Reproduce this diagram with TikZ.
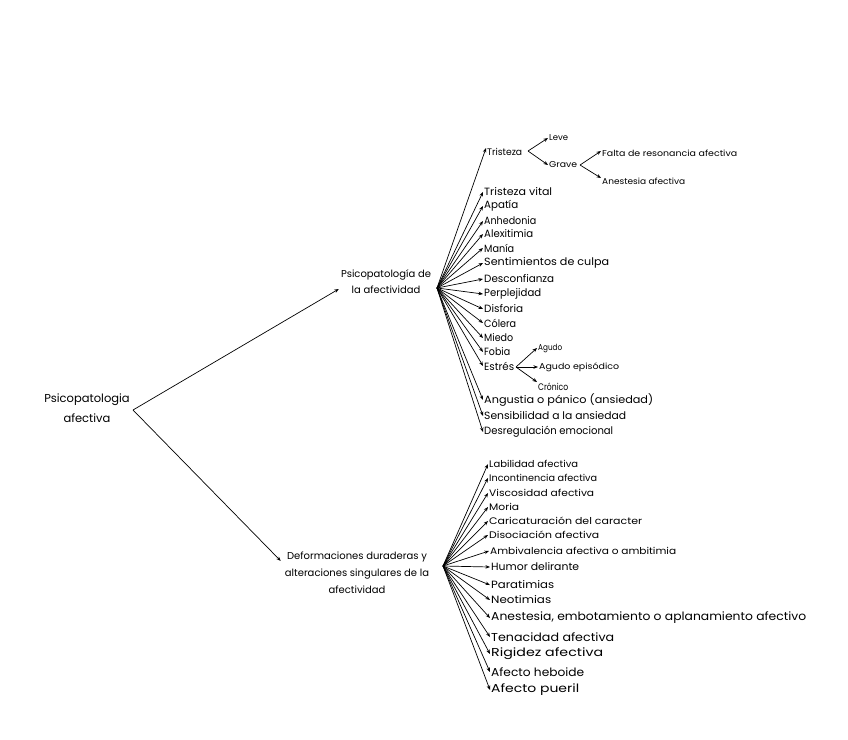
\documentclass[tikz,border=0pt]{standalone}
\usepackage{fontspec}
\setmainfont{Poppins}
\usetikzlibrary{arrows.meta,calc}
\newcommand\fitto[2]{\resizebox{#1pt}{\height}{#2}}
\begin{document}
\begin{tikzpicture}[x=1pt,y=-1pt,
  arr/.style={-{Stealth[length=4.5pt,width=3.5pt]}, line width=0.7pt},
  lbl/.style={anchor=west, inner sep=1pt, font=\fontsize{10.5}{12}\selectfont},
  sm/.style={font=\fontsize{8.5}{10}\selectfont},
  md/.style={font=\fontsize{9.5}{11}\selectfont},
  lg/.style={font=\fontsize{11.5}{13}\selectfont},
  grp/.style={align=center, inner sep=1pt}]
\useasboundingbox[fill=white] (0,0) rectangle (848,739);

% root and groups
\node[grp, font=\fontsize{11.5}{20}\selectfont] (root) at (87,408) {Psicopatologia\\afectiva};
\node[grp, font=\fontsize{10}{16}\selectfont] (p1) at (386,282) {Psicopatología de\\la afectividad};
\node[grp, font=\fontsize{10}{17}\selectfont] (d) at (357,573) {Deformaciones duraderas y\\alteraciones singulares de la\\afectividad};

\coordinate (rv) at (133,410);
\coordinate (h1) at (437,288);
\coordinate (h2) at (443,566);

\draw[arr] (rv) -- ($(p1.west)+(-1,7)$);
\draw[arr] (rv) -- ($(d.north west)+(-3,10)$);

% upper group
\node[lbl,md] (tri)  at (486,152) {\fitto{35}{Tristeza}};
\node[lbl,sm] (leve) at (548,138) {\fitto{19}{Leve}};
\node[lbl,sm] (grave) at (548,165) {\fitto{28}{Grave}};
\node[lbl,sm] (falta) at (601,153) {\fitto{135}{Falta de resonancia afectiva}};
\node[lbl,sm] (anes) at (601,181) {\fitto{83}{Anestesia afectiva}};
\node[lbl] (tv)   at (483,192) {\fitto{68}{Tristeza vital}};
\node[lbl] (apa)  at (483,206) {\fitto{34}{Apatía}};
\node[lbl] (anh)  at (483,221) {\fitto{52}{Anhedonia}};
\node[lbl] (ale)  at (483,234) {\fitto{49}{Alexitimia}};
\node[lbl] (man)  at (483,248) {\fitto{30}{Manía}};
\node[lbl] (sen)  at (483,263) {\fitto{125}{Sentimientos de culpa}};
\node[lbl] (des)  at (483,279) {\fitto{70}{Desconfianza}};
\node[lbl] (per)  at (483,294) {\fitto{57}{Perplejidad}};
\node[lbl] (dis)  at (483,309) {\fitto{39}{Disforia}};
\node[lbl] (col)  at (483,323) {\fitto{32}{Cólera}};
\node[lbl] (mie)  at (483,338) {\fitto{29}{Miedo}};
\node[lbl] (fob)  at (483,352) {\fitto{26}{Fobia}};
\node[lbl] (est)  at (483,366) {\fitto{30}{Estrés}};
\node[lbl,sm] (agu)  at (537,348) {\fitto{24}{Agudo}};
\node[lbl,sm] (agep) at (538,367) {\fitto{80}{Agudo episódico}};
\node[lbl,md] (cro)  at (537,387) {\fitto{30}{Crónico}};
\node[lbl] (ang)  at (483,400) {\fitto{169}{Angustia o pánico (ansiedad)}};
\node[lbl] (sens) at (483,416) {\fitto{142}{Sensibilidad a la ansiedad}};
\node[lbl] (desr) at (483,432) {\fitto{129}{Desregulación emocional}};

\coordinate (tv1) at (528,151);
\coordinate (gv1) at (580,165);
\coordinate (ev1) at (516,367);

\draw[arr] (h1) -- ($(tri.west)+(0,-4)$);
\foreach \n in {tv,apa,anh,ale,man,sen,des,per,dis,col,mie,fob,est,ang,sens,desr}
  \draw[arr] (h1) -- (\n.west);
\draw[arr] (tv1) -- (leve.west);
\draw[arr] (tv1) -- (grave.west);
\draw[arr] (gv1) -- ($(falta.west)+(0,-2)$);
\draw[arr] (gv1) -- ($(anes.west)+(0,-3)$);
\draw[arr] (ev1) -- (agu.west);
\draw[arr] (ev1) -- (agep.west);
\draw[arr] (ev1) -- ($(cro.west)+(0,-5)$);

% lower group
\node[lbl,md] (lab)  at (488,464) {\fitto{89}{Labilidad afectiva}};
\node[lbl,md] (inc)  at (488,478) {\fitto{108}{Incontinencia afectiva}};
\node[lbl,md] (vis)  at (488,493) {\fitto{105}{Viscosidad afectiva}};
\node[lbl,md] (mor)  at (488,507) {\fitto{30}{Moria}};
\node[lbl,md] (car)  at (488,521) {\fitto{153}{Caricaturación del caracter}};
\node[lbl,md] (diso) at (488,535) {\fitto{110}{Disociación afectiva}};
\node[lbl,md] (amb)  at (489,551) {\fitto{186}{Ambivalencia afectiva o ambitimia}};
\node[lbl] (hum)  at (490,567) {\fitto{88}{Humor delirante}};
\node[lbl] (par)  at (490,585) {\fitto{63}{Paratimias}};
\node[lbl] (neo)  at (490,600) {\fitto{60}{Neotimias}};
\node[lbl,lg] (aest) at (490,618) {\fitto{315}{Anestesia, embotamiento o aplanamiento afectivo}};
\node[lbl,lg] (ten)  at (490,637) {\fitto{123}{Tenacidad afectiva}};
\node[lbl,lg] (rig)  at (490,654) {\fitto{112}{Rigidez afectiva}};
\node[lbl,lg] (heb)  at (490,672) {\fitto{93}{Afecto heboide}};
\node[lbl,lg] (pue)  at (490,690) {\fitto{88}{Afecto pueril}};

\foreach \n in {lab,inc,vis,mor,car,diso,amb,hum,par,neo,aest,ten,rig,heb,pue}
  \draw[arr] (h2) -- (\n.west);
\end{tikzpicture}
\end{document}
